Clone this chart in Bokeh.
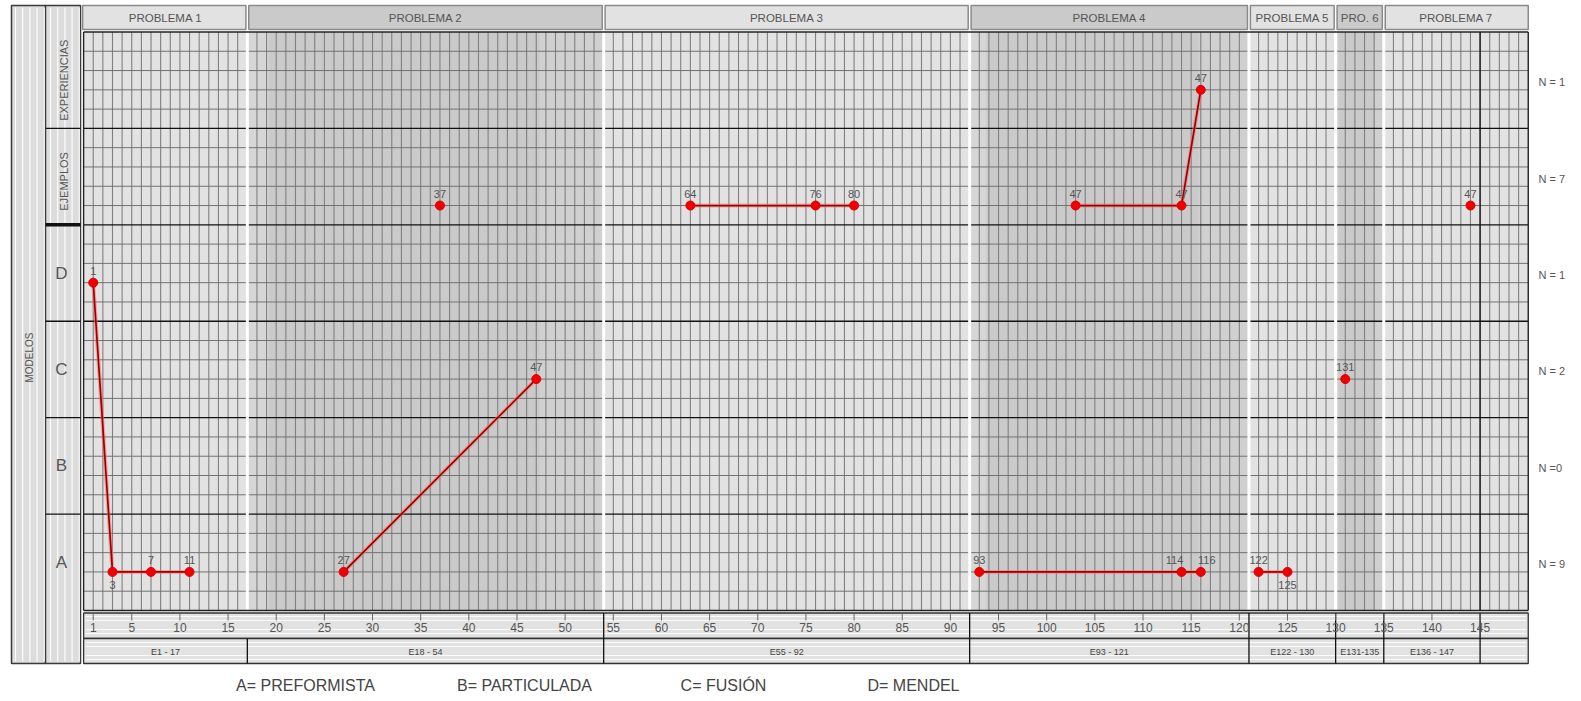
import numpy as np
from bokeh.plotting import figure
from bokeh.models import Range1d
from bokeh.core.properties import value
from bokeh.embed import file_html
from bokeh.resources import INLINE

# ---------------- data ----------------
panel_titles = ["PROBLEMA 1", "PROBLEMA 2", "PROBLEMA 3", "PROBLEMA 4",
                "PROBLEMA 5", "PRO. 6", "PROBLEMA 7"]
panel_ranges = ["E1 - 17", "E18 - 54", "E55 - 92", "E93 - 121",
                "E122 - 130", "E131-135", "E136 - 147"]
panel_edges = [0, 17, 54, 92, 121, 130, 135, 150]
panel_range_end = [17, 54, 92, 121, 130, 135, 145]
row_names = ["A", "B", "C", "D", "EJEMPLOS", "EXPERIENCIAS"]
row_counts = ["N = 9", "N =0", "N = 2", "N = 1", "N = 7", "N = 1"]
legend_items = ["A= PREFORMISTA", "B= PARTICULADA", "C= FUSIÓN", "D= MENDEL"]
x_ticks = [1, 5, 10, 15, 20, 25, 30, 35, 40, 45, 50, 55, 60, 65, 70, 75, 80,
           85, 90, 95, 100, 105, 110, 115, 120, 125, 130, 135, 140, 145]

# connected point groups (x = episode, y = row level)
track_x = [[1, 3, 7, 11], [27, 47], [37], [63, 76, 80], [103, 114, 116],
           [93, 114, 116], [122, 125], [131], [144]]
track_y = [[3.4, 0.4, 0.4, 0.4], [0.4, 2.4], [4.2], [4.2, 4.2, 4.2],
           [4.2, 4.2, 5.4], [0.4, 0.4, 0.4], [0.4, 0.4], [2.4], [4.2]]
track_labels = [["1", "3", "7", "11"], ["27", "47"], ["37"], ["64", "76", "80"],
                ["47", "47", "47"], ["93", "114", "116"], ["122", "125"],
                ["131"], ["47"]]
label_side = [["above", "below", "above", "above"], ["above", "above"], ["above"],
              ["above", "above", "above"], ["above", "above", "above"],
              ["above", "aboveleft", "aboveright"], ["above", "below"],
              ["above"], ["above"]]

# ---------------- geometry ----------------
W, H = 1578, 698
PX_X = 9.631      # pixels per episode
X0 = 83.1         # page px of x = 0
PX_Y = 96.42      # pixels per row
Y0 = 610.0        # page px of y = 0
OFF = 0           # page position of the canvas


def fx(px):
    return (px - X0) / PX_X


def fy(py):
    return (Y0 - py) / PX_Y


FONT = value("Liberation Sans")

p = figure(width=W, height=H, x_range=Range1d(fx(OFF), fx(OFF + W)),
           y_range=Range1d(fy(OFF + H), fy(OFF)), x_axis_type=None, y_axis_type=None,
           toolbar_location=None, output_backend="svg", min_border=0,
           min_border_left=0, min_border_right=0, min_border_top=0,
           min_border_bottom=0)
p.outline_line_color = None
p.background_fill_color = "white"
p.border_fill_color = "white"

# ---------------- left label columns ----------------
p.quad(left=[fx(11), fx(45)], right=[fx(45), fx(80)], top=fy(5), bottom=fy(663),
       fill_color="#dcdcdc", line_color="#3a3a3a", line_width=1.5)
sx = [v for v in np.arange(15, 44, 7.2)] + [v for v in np.arange(50, 79, 7.2)]
p.segment(x0=[fx(v) for v in sx], x1=[fx(v) for v in sx], y0=fy(7), y1=fy(661),
          line_color="white", line_width=1.2, line_alpha=0.9)
p.segment(x0=fx(45), x1=fx(80), y0=[1, 2, 3, 5], y1=[1, 2, 3, 5],
          line_color="#111111", line_width=1.3)
p.segment(x0=fx(45), x1=fx(80), y0=[4], y1=[4], line_color="#111111", line_width=3.5)

# ---------------- headers ----------------
n_p = len(panel_titles)
light, dark = "#e2e2e2", "#cacaca"
pfill = [light if i % 2 == 0 else dark for i in range(n_p)]
hl = [panel_edges[i] + (0.15 if i > 0 else -0.1) for i in range(n_p)]
hr = [panel_edges[i + 1] - (0.15 if i < n_p - 1 else 0) for i in range(n_p)]
p.quad(left=hl, right=hr, top=fy(5), bottom=fy(29), fill_color=pfill,
       line_color="#8a8a8a", line_width=1.5)
p.text(x=[(a + b) / 2 for a, b in zip(panel_edges[:-1], panel_edges[1:])],
       y=fy(17.5), text=panel_titles, text_font=FONT, text_font_size="11.5px",
       text_color="#555555", text_align="center", text_baseline="middle")

# ---------------- panel backgrounds ----------------
p.quad(left=panel_edges[:-1], right=panel_edges[1:], top=6, bottom=0,
       fill_color=pfill, line_color=None)
# soft shading bands inside darker panels
shade_l, shade_r, shade_c = [], [], []
for i in range(1, n_p, 2):
    a, b = panel_edges[i], panel_edges[i + 1]
    shade_l += [a, b - (b - a) * 0.18]
    shade_r += [a + (b - a) * 0.06, b]
    shade_c += ["#d6d6d6", "#d0d0d0"]
p.quad(left=shade_l, right=shade_r, top=6, bottom=0, fill_color=shade_c, line_color=None)

# ---------------- grid ----------------
vx = []
for a, b in zip(panel_edges[:-1], panel_edges[1:]):
    vx += list(range(a + 1, b))
p.segment(x0=vx, x1=vx, y0=0, y1=6, line_color="#808080", line_width=1.1)
hy = [k * 0.2 for k in range(1, 30) if k % 5 != 0]
p.segment(x0=0, x1=150, y0=hy, y1=hy, line_color="#727272", line_width=1)
p.segment(x0=0, x1=150, y0=[1, 2, 3, 4, 5], y1=[1, 2, 3, 4, 5],
          line_color="#111111", line_width=1.3)
# white separators between panels
inner = panel_edges[1:-1]
p.segment(x0=inner, x1=inner, y0=0, y1=fy(29.5), line_color="white", line_width=3)
# outer frame of the grid
p.segment(x0=[0, 150, 0, 0], x1=[0, 150, 150, 150], y0=[0, 0, 0, 6], y1=[6, 6, 0, 6],
          line_color="#222222", line_width=1.4)
p.segment(x0=[145], x1=[145], y0=0, y1=6, line_color="#111111", line_width=1.3)

# ---------------- bottom rows ----------------
p.quad(left=0, right=150, top=[fy(612.5), fy(638)], bottom=[fy(638), fy(663)],
       fill_color="#e2e2e2", line_color="#333333", line_width=1.3)
stripes = [616, 620, 629, 633, 642, 646, 655, 659]
p.segment(x0=0.2, x1=149.8, y0=[fy(v) for v in stripes], y1=[fy(v) for v in stripes],
          line_color="white", line_width=1.2, line_alpha=0.85)
bx = [e for e in panel_range_end[1:]]
p.segment(x0=bx, x1=bx, y0=fy(612.5), y1=fy(663), line_color="#111111", line_width=1.3)
p.segment(x0=[panel_range_end[0]], x1=[panel_range_end[0]], y0=fy(638), y1=fy(663),
          line_color="#111111", line_width=1.3)
p.segment(x0=x_ticks, x1=x_ticks, y0=fy(613), y1=fy(620), line_color="#666666",
          line_width=1)
p.text(x=x_ticks, y=fy(626.5), text=[str(t) for t in x_ticks], text_font=FONT,
       text_font_size="12px", text_color="#555555", text_align="center",
       text_baseline="middle")
starts = [0] + panel_range_end[:-1]
p.text(x=[(a + b) / 2 for a, b in zip(starts, panel_range_end)], y=fy(651),
       text=panel_ranges, text_font=FONT, text_font_size="9px",
       text_color="#444444", text_align="center", text_baseline="middle")

# ---------------- row labels ----------------
p.text(x=fx(61), y=[r + 0.5 for r in range(4)], text=row_names[:4], text_font=FONT,
       text_font_size="17px", text_color="#555555", text_align="center",
       text_baseline="middle")
p.text(x=fx(63), y=[4.45, 5.5], text=row_names[4:], text_font=FONT,
       text_font_size="11px", text_color="#555555", text_align="center",
       text_baseline="middle", angle=np.pi / 2)
p.text(x=fx(29), y=fy(357), text=["MODELOS"], text_font=FONT, text_font_size="10px",
       text_color="#555555", text_align="center", text_baseline="middle",
       angle=np.pi / 2)
p.text(x=fx(1538), y=[r + 0.5 - 2 / PX_Y for r in range(6)], text=row_counts,
       text_font=FONT, text_font_size="11px", text_color="#555555",
       text_align="left", text_baseline="middle")

# ---------------- legend ----------------
p.text(x=[fx(305), fx(524), fx(723), fx(913)], y=fy(685), text=legend_items,
       text_font=FONT, text_font_size="16px", text_color="#444444",
       text_align="center", text_baseline="middle")

# ---------------- data tracks ----------------
for xs, ys in zip(track_x, track_y):
    if len(xs) > 1:
        p.line(xs, ys, line_color="#ff7070", line_width=4, line_alpha=0.55)
        p.line(xs, ys, line_color="#9a0000", line_width=1.7)
all_x = [v for t in track_x for v in t]
all_y = [v for t in track_y for v in t]
p.scatter(all_x, all_y, size=9, fill_color="#ee0000", line_color="#e00000",
          line_width=1)

off = {"above": (0, 12), "below": (0, -13), "aboveleft": (-7, 12),
       "aboveright": (6, 12)}
lx, ly, lt = [], [], []
for xs, ys, ls, ss in zip(track_x, track_y, track_labels, label_side):
    for xv, yv, t, s in zip(xs, ys, ls, ss):
        dx, dy = off[s]
        lx.append(xv + dx / PX_X)
        ly.append(yv + dy / PX_Y)
        lt.append(t)
p.text(x=lx, y=ly, text=lt, text_font=FONT, text_font_size="11px",
       text_color="#555555", text_align="center", text_baseline="middle")

open("out.html", "w").write(file_html(p, INLINE))
